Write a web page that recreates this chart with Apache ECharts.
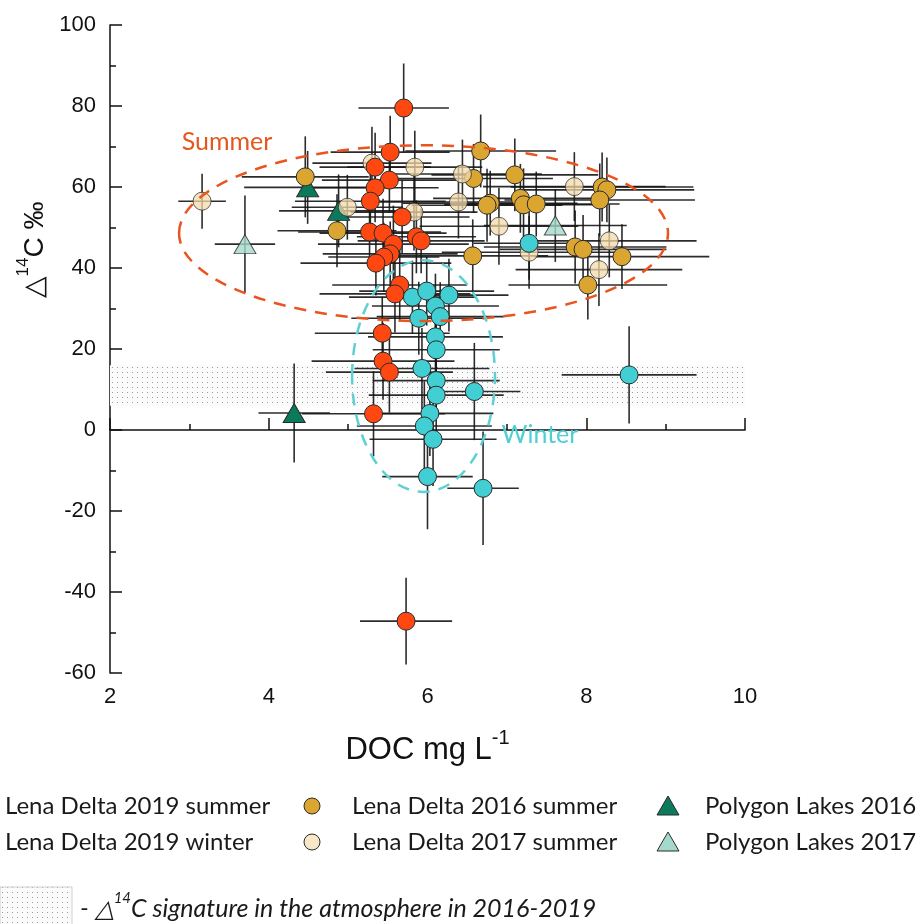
<!DOCTYPE html>
<html><head><meta charset="utf-8">
<script src="https://cdn.jsdelivr.net/npm/echarts@6/dist/echarts.min.js"></script>
<style>html,body{margin:0;padding:0;background:#fff}#c{width:917px;height:924px}</style>
</head><body><div id="c"></div>
<script>
// ---- data: [DOC mg/L, Δ14C ‰, DOC error, Δ14C error] ----
const lena2019Summer = [
  [5.70, 79.5, 0.57, 11.0], [5.53, 68.6, 0.75, 9.0], [5.34, 64.9, 0.70, 8.5],
  [5.52, 61.7, 0.85, 8.0], [5.34, 59.8, 0.80, 8.5], [5.28, 56.5, 0.95, 8.0],
  [5.68, 52.6, 0.85, 9.0], [5.27, 48.9, 0.90, 8.0], [5.44, 48.6, 0.80, 8.5],
  [5.86, 47.7, 0.75, 9.0], [5.92, 46.7, 0.80, 8.0], [5.57, 45.9, 0.95, 9.5],
  [5.53, 43.5, 0.85, 8.0], [5.45, 42.7, 0.70, 8.5], [5.35, 41.2, 0.95, 8.0],
  [5.65, 35.8, 0.85, 9.0], [5.59, 33.6, 0.95, 9.5], [5.43, 23.9, 0.85, 9.0],
  [5.44, 17.0, 0.90, 9.5], [5.52, 14.3, 0.80, 10.0], [5.32, 4.0, 0.90, 10.5],
  [5.73, -47.2, 0.58, 10.7]
];
const lena2019Winter = [
  [5.81, 32.8, 0.80, 9.0], [5.99, 34.3, 0.85, 8.5], [6.27, 33.3, 0.75, 9.0],
  [6.10, 30.6, 0.80, 8.0], [5.89, 27.6, 0.85, 9.0], [6.16, 28.0, 0.80, 8.5],
  [6.10, 23.0, 0.85, 9.0], [6.11, 19.8, 0.80, 9.0], [5.93, 15.2, 0.85, 10.0],
  [6.11, 12.2, 0.80, 9.5], [6.11, 8.6, 0.85, 10.0], [6.59, 9.5, 0.58, 12.0],
  [6.03, 4.1, 0.80, 10.5], [5.96, 1.0, 0.85, 11.0], [6.07, -2.3, 0.80, 11.5],
  [6.00, -11.5, 0.57, 13.0], [6.70, -14.4, 0.45, 14.0], [8.54, 13.6, 0.85, 12.0],
  [7.28, 46.1, 0.70, 9.0]
];
const lena2016Summer = [
  [4.46, 62.5, 0.80, 10.0], [4.86, 49.2, 0.75, 9.0], [6.67, 68.9, 0.95, 9.0],
  [6.58, 62.1, 1.00, 8.5], [7.10, 63.0, 1.05, 9.0], [6.79, 56.0, 1.10, 8.0],
  [6.75, 55.5, 0.95, 9.0], [7.17, 57.2, 1.10, 8.5], [7.21, 55.6, 1.00, 9.0],
  [7.37, 55.8, 1.05, 8.0], [6.57, 43.0, 0.95, 9.0], [8.20, 60.0, 1.15, 8.5],
  [8.26, 59.3, 1.10, 8.0], [8.17, 56.8, 1.20, 9.0], [7.86, 45.2, 1.15, 9.0],
  [7.96, 44.6, 1.05, 8.5], [8.45, 42.8, 1.10, 8.0], [8.02, 35.8, 1.00, 8.5]
];
const lena2017Summer = [
  [3.16, 56.5, 0.30, 6.8], [4.99, 55.0, 0.70, 8.0], [5.30, 65.9, 0.75, 9.0],
  [5.84, 64.9, 0.85, 9.0], [5.83, 53.8, 0.80, 9.5], [6.44, 63.2, 1.00, 8.5],
  [6.39, 56.3, 1.05, 9.0], [6.90, 50.3, 1.00, 9.5], [7.28, 43.9, 1.10, 9.0],
  [7.85, 60.1, 1.15, 8.5], [8.29, 46.7, 1.10, 9.0], [8.16, 39.6, 1.05, 9.0]
];
const polygon2016 = [
  [4.49, 59.9, 0.80, 9.0], [4.88, 54.1, 0.75, 9.0], [4.32, 4.2, 0.45, 12.2]
];
const polygon2017 = [
  [3.70, 45.9, 0.38, 12.0], [7.61, 50.5, 0.90, 9.0]
];
const atmosphereBand = [6, 16];
const xTicks = { min: 2, max: 10, interval: 2 };
const yTicks = { min: -60, max: 100, interval: 20 };
// annotation ellipses in data units: [centre x, centre y, radius x, radius y]
const summerEllipse = [5.95, 48.6, 3.08, 21.7];
const winterEllipse = [5.95, 13.3, 0.90, 28.6];

// ---- styling ----
const C = {
  s2019: '#FF4811', w2019: '#41CFD4', s2016: '#DBA531', s2017: '#F3DAAA',
  p2016: '#0B7A5C', p2017: '#A5D9CB', summerLine: '#E9541F', winterLine: '#5ED0D4'
};

function dotPattern() {
  const cv = document.createElement('canvas');
  cv.width = 5; cv.height = 5;
  const g = cv.getContext('2d');
  g.fillStyle = '#fbfbfb'; g.fillRect(0, 0, 5, 5);
  g.fillStyle = '#9a9a9a'; g.fillRect(2, 2, 1, 1);
  return cv;
}
const pattern = dotPattern();

function errSeries(data, z) {
  return {
    type: 'custom', data: data, z: z, silent: true,
    encode: { x: 0, y: 1 },
    renderItem: function (params, api) {
      const x = api.value(0), y = api.value(1), xe = api.value(2), ye = api.value(3);
      const l = api.coord([x - xe, y]), r = api.coord([x + xe, y]);
      const t = api.coord([x, y + ye]), b = api.coord([x, y - ye]);
      const st = { stroke: '#151515', lineWidth: 1.6, opacity: 0.9 };
      return { type: 'group', children: [
        { type: 'line', shape: { x1: l[0], y1: l[1], x2: r[0], y2: r[1] }, style: st },
        { type: 'line', shape: { x1: t[0], y1: t[1], x2: b[0], y2: b[1] }, style: st }
      ]};
    }
  };
}
function scat(name, data, color, symbol, size, opacity) {
  return {
    name: name, type: 'scatter', z: 3, symbol: symbol, symbolSize: size,
    data: data.map(r => [r[0], r[1]]),
    itemStyle: { color: color, borderColor: '#2a2a2a', borderWidth: 1, opacity: opacity || 1 }
  };
}

const chart = echarts.init(document.getElementById('c'), null, { renderer: 'canvas' });
const axisFont = { fontFamily: 'Liberation Sans', fontSize: 22, color: '#111' };
chart.setOption({
  animation: false,
  backgroundColor: '#fff',
  grid: { left: 110, right: 172, top: 25, bottom: 251 },
  xAxis: {
    type: 'value', min: xTicks.min, max: xTicks.max, interval: xTicks.interval,
    axisLine: { lineStyle: { color: '#111', width: 1.5 } },
    axisTick: { inside: true, length: 12, lineStyle: { color: '#111', width: 1.5 } },
    minorTick: { show: true, splitNumber: 2, length: 6, lineStyle: { color: '#111', width: 1.5 } },
    splitLine: { show: false },
    axisLabel: Object.assign({ margin: 13 }, axisFont),
    name: '{t|DOC mg L}{s|-1}', nameLocation: 'middle', nameGap: 55,
    nameTextStyle: { rich: {
      t: { fontFamily: 'Liberation Sans', fontSize: 31, color: '#111', lineHeight: 38, verticalAlign: 'bottom' },
      s: { fontFamily: 'Liberation Sans', fontSize: 20, color: '#111', verticalAlign: 'top', lineHeight: 38 }
    } }
  },
  yAxis: {
    type: 'value', min: yTicks.min, max: yTicks.max, interval: yTicks.interval,
    axisLine: { lineStyle: { color: '#111', width: 1.5 } },
    axisTick: { inside: true, length: 12, lineStyle: { color: '#111', width: 1.5 } },
    minorTick: { show: true, splitNumber: 2, length: 6, lineStyle: { color: '#111', width: 1.5 } },
    splitLine: { show: false },
    axisLabel: Object.assign({ margin: 14 }, axisFont)
  },
  series: [
    Object.assign(errSeries(polygon2016, 2), {
      markArea: { silent: true, z: 1, itemStyle: { color: { image: pattern, repeat: 'repeat' } },
        data: [[{ yAxis: atmosphereBand[0] }, { yAxis: atmosphereBand[1] }]] }
    }),
    errSeries(polygon2017, 2),
    errSeries(lena2016Summer, 2),
    errSeries(lena2017Summer, 2),
    errSeries(lena2019Summer, 2),
    errSeries(lena2019Winter, 2),
    scat('Polygon Lakes 2016', polygon2016, C.p2016, 'triangle', [22, 19]),
    scat('Polygon Lakes 2017', polygon2017, C.p2017, 'triangle', [22, 19], 0.8),
    scat('Lena Delta 2016 summer', lena2016Summer, C.s2016, 'circle', 18),
    scat('Lena Delta 2017 summer', lena2017Summer, C.s2017, 'circle', 18, 0.75),
    scat('Lena Delta 2019 summer', lena2019Summer, C.s2019, 'circle', 18),
    scat('Lena Delta 2019 winter', lena2019Winter, C.w2019, 'circle', 18)
  ]
});

function ell(e, color) {
  const c = chart.convertToPixel({ gridIndex: 0 }, [e[0], e[1]]);
  const px = chart.convertToPixel({ gridIndex: 0 }, [e[0] + e[2], e[1] + e[3]]);
  return { type: 'ellipse', z: 50, silent: true,
    shape: { cx: c[0], cy: c[1], rx: Math.abs(px[0] - c[0]), ry: Math.abs(px[1] - c[1]) },
    style: { fill: 'none', stroke: color, lineWidth: 2.5, lineDash: [12, 9] } };
}
const lgFont = 'Lato';
function lgText(x, y, s) {
  return { type: 'text', x: x, y: y, z: 60,
    style: { text: s, fontFamily: lgFont, fontSize: 24, fill: '#1a1a1a', verticalAlign: 'middle', align: 'left' } };
}
function tri(cx, cy, color) {
  return { type: 'polygon', z: 60, shape: { points: [[cx, cy - 10], [cx + 11, cy + 9], [cx - 11, cy + 9]] },
    style: { fill: color, stroke: '#2a2a2a', lineWidth: 1 } };
}
const graphics = [
  ell(summerEllipse, C.summerLine),
  ell(winterEllipse, C.winterLine),
  { type: 'text', x: 227, y: 142, z: 60, style: { text: 'Summer', fontFamily: lgFont, fontSize: 25, fill: '#E4571E', align: 'center', verticalAlign: 'middle' } },
  { type: 'text', x: 540, y: 435, z: 60, style: { text: 'Winter', fontFamily: lgFont, fontSize: 25, fill: '#4ECFD4', align: 'center', verticalAlign: 'middle' } },
  { type: 'text', x: 32, y: 250, rotation: Math.PI / 2, z: 60,
    style: { text: '{t|△}{s|14}{t|C ‰}', align: 'center', verticalAlign: 'middle',
      rich: { t: { fontFamily: 'Liberation Sans', fontSize: 28, fill: '#111', lineHeight: 34, verticalAlign: 'bottom' },
              s: { fontFamily: 'Liberation Sans', fontSize: 17, fill: '#111', lineHeight: 34, verticalAlign: 'top' } } } },
  lgText(5, 806, 'Lena Delta 2019 summer'),
  lgText(5, 842, 'Lena Delta 2019 winter'),
  { type: 'circle', z: 60, shape: { cx: 312, cy: 806, r: 8 }, style: { fill: C.s2016, stroke: '#2a2a2a', lineWidth: 1 } },
  { type: 'circle', z: 60, shape: { cx: 312, cy: 842, r: 8 }, style: { fill: '#F8E8C8', stroke: '#2a2a2a', lineWidth: 1 } },
  lgText(352, 806, 'Lena Delta 2016 summer'),
  lgText(352, 842, 'Lena Delta 2017 summer'),
  tri(668, 806, C.p2016),
  tri(668, 842, C.p2017),
  lgText(705, 806, 'Polygon Lakes 2016'),
  lgText(705, 842, 'Polygon Lakes 2017'),
  { type: 'rect', z: 60, shape: { x: 0, y: 887, width: 72, height: 40 },
    style: { fill: { image: pattern, repeat: 'repeat' }, stroke: '#cfcfcf', lineWidth: 1 } },
  { type: 'text', x: 80, y: 906, z: 60,
    style: { text: '{t|- △}{s|14}{t|C signature in the atmosphere in 2016-2019}', verticalAlign: 'middle', align: 'left',
      rich: { t: { fontFamily: lgFont, fontStyle: 'italic', fontSize: 25, fill: '#1a1a1a', lineHeight: 30, verticalAlign: 'bottom' },
              s: { fontFamily: lgFont, fontStyle: 'italic', fontSize: 15, fill: '#1a1a1a', lineHeight: 30, verticalAlign: 'top' } } } }
];
chart.setOption({ graphic: graphics });
</script>
</body></html>
